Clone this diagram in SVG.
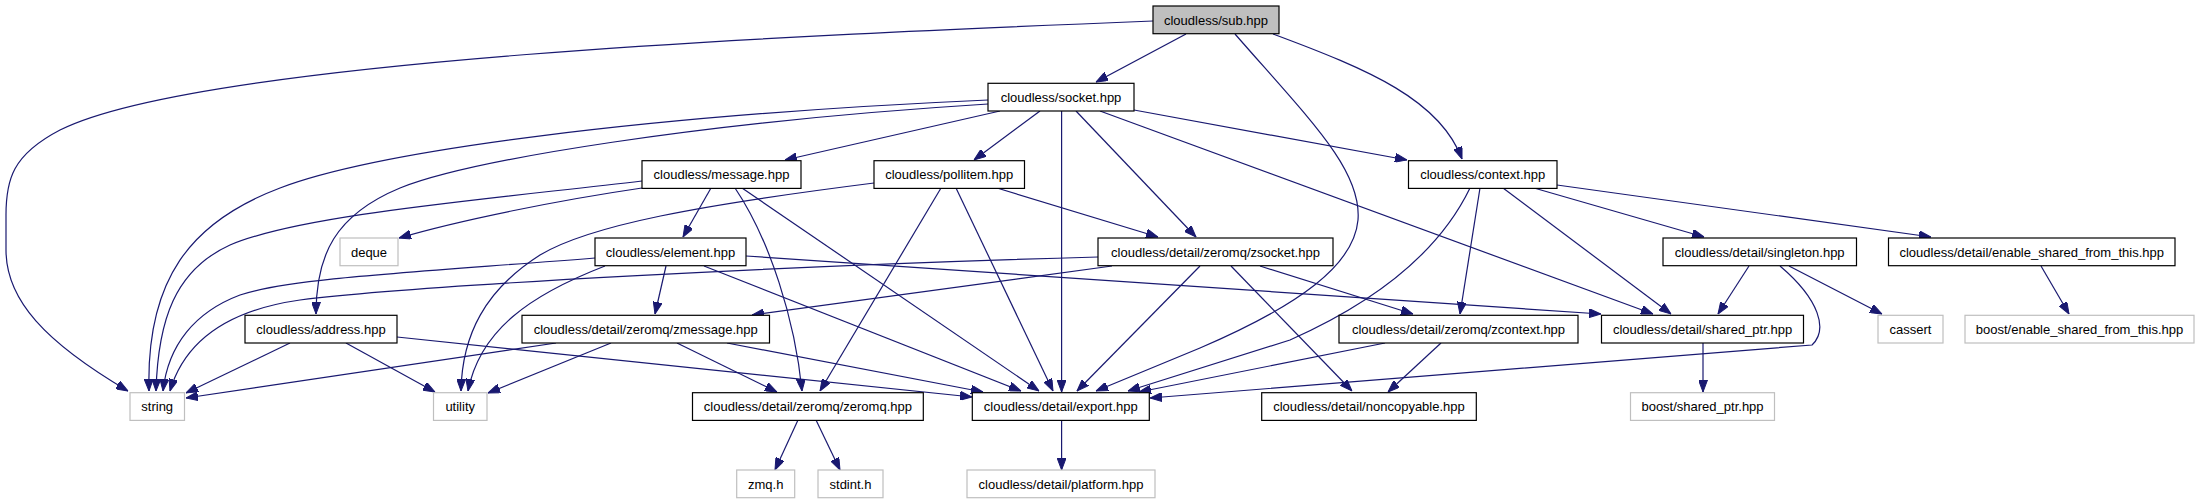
<svg xmlns="http://www.w3.org/2000/svg" width="2199" height="504" viewBox="0 0 2199 504">
<style>
.n rect{fill:#fff;stroke:#000;stroke-width:1.2}
.g rect{fill:#fff;stroke:#bfbfbf;stroke-width:1.2}
.r rect{fill:#bfbfbf;stroke:#000;stroke-width:1.2}
text{font-family:"Liberation Sans",Arial,sans-serif;font-size:13px;fill:#000;text-anchor:middle}
#edges path{fill:none;stroke:#191970;stroke-width:1.2;marker-end:url(#a)}
</style>
<defs>
<marker id="a" markerWidth="12" markerHeight="9" refX="12" refY="4.5" orient="auto" markerUnits="userSpaceOnUse"><path d="M0,0 L12,4.5 L0,9 z" fill="#191970" stroke="#191970" stroke-width="1"/></marker>
</defs>
<rect width="2199" height="504" fill="#fff"/>
<g id="edges">
<path d="M1186,34 L1096,82"/>
<path d="M1153,21 C800,35 200,60 60,130 C12,155 6,180 6,215 L6,250 C6,300 45,342 128,391"/>
<path d="M1235,34 C1310,120 1362,170 1358,220 C1354,265 1300,305 1200,348 L1096,391"/>
<path d="M1273,34 C1370,70 1440,100 1462,159"/>
<path d="M988,100 C650,115 380,150 280,188 C190,222 146,280 149,391"/>
<path d="M988,104 C700,122 470,160 400,188 C335,215 316,255 316,314"/>
<path d="M1000,111 L785,160"/>
<path d="M1040,111 L974,160"/>
<path d="M1061.6,111 L1061.6,392"/>
<path d="M1076,111 L1196,237"/>
<path d="M1134,110 L1407,160"/>
<path d="M1100,111 L1653,314"/>
<path d="M642,181 C480,200 300,215 230,245 C175,270 158,320 156,391"/>
<path d="M642,188 C560,200 460,220 399,238"/>
<path d="M711,188 L683,237"/>
<path d="M735,188 C770,240 795,320 802,391"/>
<path d="M742,188 L1039,391"/>
<path d="M874,183 C700,205 590,225 540,255 C485,290 462,335 461,391"/>
<path d="M941,188 L820,391"/>
<path d="M956,188 L1053,391"/>
<path d="M997,188 L1158,237"/>
<path d="M1534,188 L1704,237"/>
<path d="M1557,185 L1931,237"/>
<path d="M1503,188 L1671,314"/>
<path d="M1480,188 L1460,314"/>
<path d="M1470,188 C1440,250 1380,300 1290,340 L1128,391"/>
<path d="M595,258 C420,272 290,278 240,295 C195,312 168,345 163,391"/>
<path d="M605,266 C530,295 480,330 468,391"/>
<path d="M666,266 L655,314"/>
<path d="M704,266 L1021,391"/>
<path d="M746,256 L1601,314"/>
<path d="M1098,257 C800,265 420,285 300,300 C230,310 185,340 170,391"/>
<path d="M1112,266 L752,315"/>
<path d="M1200,266 L1077,391"/>
<path d="M1231,266 L1352,391"/>
<path d="M1260,266 L1413,314"/>
<path d="M1749,266 L1718,314"/>
<path d="M1789,266 L1882,314"/>
<path d="M1780,266 C1820,300 1828,330 1812,345 L1150,398"/>
<path d="M2041,266 L2069,314"/>
<path d="M290,343 L186,393"/>
<path d="M346,343 L435,392"/>
<path d="M397,337 L972,397"/>
<path d="M556,343 L186,398"/>
<path d="M611,343 L488,393"/>
<path d="M677,343 L777,392"/>
<path d="M727,343 L983,392"/>
<path d="M1385,343 L1139,392"/>
<path d="M1441,343 L1388,392"/>
<path d="M1703,343 L1703,392"/>
<path d="M798,420 L775,470"/>
<path d="M816,420 L840,470"/>
<path d="M1061.6,420 L1061.6,470"/>
</g>
<g id="sub" class="r"><rect x="1153" y="6" width="126" height="27.7"/><text x="1216" y="24.5">cloudless/sub.hpp</text></g>
<g id="socket" class="n"><rect x="988" y="83.3" width="146" height="27.7"/><text x="1061" y="101.8">cloudless/socket.hpp</text></g>
<g id="message" class="n"><rect x="642" y="160.7" width="159" height="27.7"/><text x="721.5" y="179.2">cloudless/message.hpp</text></g>
<g id="pollitem" class="n"><rect x="874" y="160.7" width="150.5" height="27.7"/><text x="949.2" y="179.2">cloudless/pollitem.hpp</text></g>
<g id="context" class="n"><rect x="1408.5" y="160.7" width="148.5" height="27.7"/><text x="1482.7" y="179.2">cloudless/context.hpp</text></g>
<g id="deque" class="g"><rect x="340" y="238" width="58" height="27.7"/><text x="369" y="256.5">deque</text></g>
<g id="element" class="n"><rect x="595" y="238" width="151" height="27.7"/><text x="670.5" y="256.5">cloudless/element.hpp</text></g>
<g id="zsocket" class="n"><rect x="1098" y="238" width="235" height="27.7"/><text x="1215.5" y="256.5">cloudless/detail/zeromq/zsocket.hpp</text></g>
<g id="singleton" class="n"><rect x="1663" y="238" width="193.5" height="27.7"/><text x="1759.7" y="256.5">cloudless/detail/singleton.hpp</text></g>
<g id="enable_shared" class="n"><rect x="1888.5" y="238" width="286.5" height="27.7"/><text x="2031.7" y="256.5">cloudless/detail/enable_shared_from_this.hpp</text></g>
<g id="address" class="n"><rect x="245" y="315.3" width="152" height="27.7"/><text x="321" y="333.8">cloudless/address.hpp</text></g>
<g id="zmessage" class="n"><rect x="522" y="315.3" width="247.5" height="27.7"/><text x="645.7" y="333.8">cloudless/detail/zeromq/zmessage.hpp</text></g>
<g id="zcontext" class="n"><rect x="1339" y="315.3" width="239" height="27.7"/><text x="1458.5" y="333.8">cloudless/detail/zeromq/zcontext.hpp</text></g>
<g id="shared_ptr" class="n"><rect x="1601.5" y="315.3" width="202" height="27.7"/><text x="1702.5" y="333.8">cloudless/detail/shared_ptr.hpp</text></g>
<g id="cassert" class="g"><rect x="1878" y="315.3" width="65" height="27.7"/><text x="1910.5" y="333.8">cassert</text></g>
<g id="boost_enable" class="g"><rect x="1965" y="315.3" width="229" height="27.7"/><text x="2079.5" y="333.8">boost/enable_shared_from_this.hpp</text></g>
<g id="string" class="g"><rect x="130" y="392.7" width="54.5" height="27.7"/><text x="157.2" y="411.2">string</text></g>
<g id="utility" class="g"><rect x="433.5" y="392.7" width="53.5" height="27.7"/><text x="460.2" y="411.2">utility</text></g>
<g id="zeromq" class="n"><rect x="692.5" y="392.7" width="230.8" height="27.7"/><text x="807.9" y="411.2">cloudless/detail/zeromq/zeromq.hpp</text></g>
<g id="export" class="n"><rect x="972.3" y="392.7" width="177" height="27.7"/><text x="1060.8" y="411.2">cloudless/detail/export.hpp</text></g>
<g id="noncopyable" class="n"><rect x="1261.7" y="392.7" width="214.6" height="27.7"/><text x="1369" y="411.2">cloudless/detail/noncopyable.hpp</text></g>
<g id="boost_shared_ptr" class="g"><rect x="1630.5" y="392.7" width="144" height="27.7"/><text x="1702.5" y="411.2">boost/shared_ptr.hpp</text></g>
<g id="zmq_h" class="g"><rect x="736.7" y="470" width="58" height="27.7"/><text x="765.7" y="488.5">zmq.h</text></g>
<g id="stdint_h" class="g"><rect x="818" y="470" width="65" height="27.7"/><text x="850.5" y="488.5">stdint.h</text></g>
<g id="platform" class="g"><rect x="967" y="470" width="188" height="27.7"/><text x="1061" y="488.5">cloudless/detail/platform.hpp</text></g>
</svg>
